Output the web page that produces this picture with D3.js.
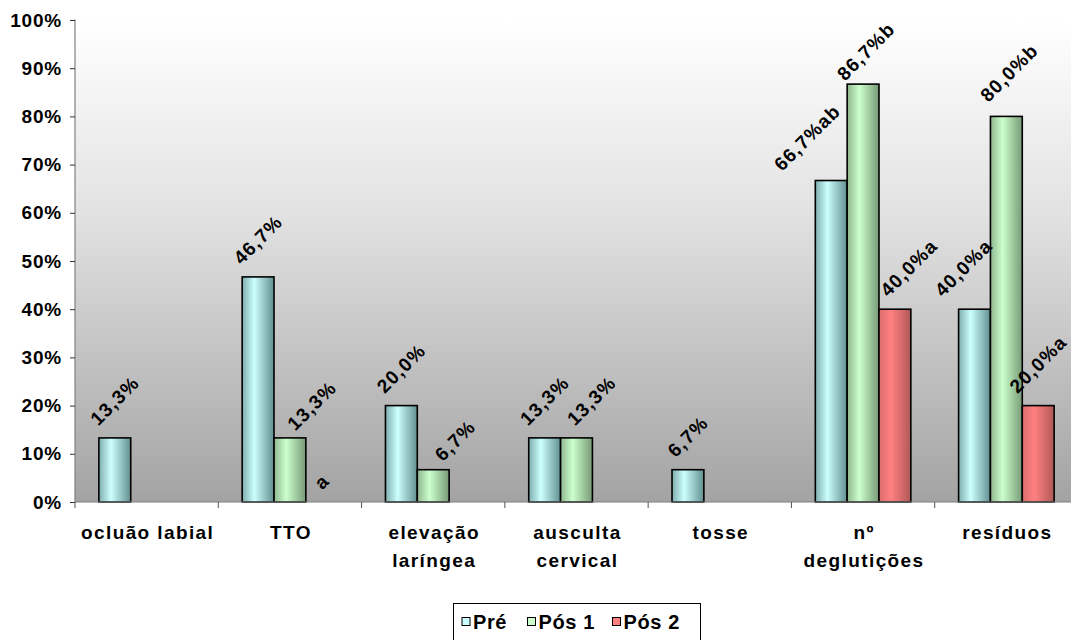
<!DOCTYPE html>
<html><head><meta charset="utf-8">
<script src="https://cdn.jsdelivr.net/npm/d3@7"></script>
<style>
body{margin:0;background:#fff}
svg{display:block}
text{font-family:"Liberation Sans",Arial,sans-serif;font-weight:bold;fill:#000}
</style>
</head><body>
<svg id="c" width="1071" height="640"></svg>
<script>
// ---- data ----
const categories = [["ocluão labial"],["TTO"],["elevação","laríngea"],["ausculta","cervical"],["tosse"],["nº","deglutições"],["resíduos"]];
const seriesNames = ["Pré","Pós 1","Pós 2"];
const pre  = [13.3, 46.7, 20.0, 13.3, 6.7, 66.7, 40.0];
const pos1 = [0,    13.3,  6.7, 13.3, 0,   86.7, 80.0];
const pos2 = [0,    0,     0,   0,    0,   40.0, 20.0];
const preLabels  = ["13,3%","46,7%","20,0%","13,3%","6,7%","66,7%ab","40,0%a"];
const pos1Labels = ["","13,3%","6,7%","13,3%","","86,7%b","80,0%b"];
const pos2Labels = ["","a","","","","40,0%a","20,0%a"];
const yTicks = [0,10,20,30,40,50,60,70,80,90,100];
// label nudges (Excel overlap avoidance), [dx,dy] per series per category
const preNudge  = [[0,0],[0,0],[0,0],[0,0],[0,0],[-24,3],[-11,0]];
const pos1Nudge = [[0,0],[22,5],[22,4],[15,0],[0,0],[3,9],[3,-2]];
const pos2Nudge = [[0,0],[0,0],[0,0],[0,0],[0,0],[14,0],[0,0]];

const seriesValues = [pre,pos1,pos2];
const seriesLabels = [preLabels,pos1Labels,pos2Labels];
const seriesNudges = [preNudge,pos1Nudge,pos2Nudge];
const colors = [
  {edgeL:"#7fadad", mid:"#ccffff", edgeR:"#628f8f", swatch:"#ccffff"},
  {edgeL:"#8fb68f", mid:"#ccffcc", edgeR:"#779a77", swatch:"#ccffcc"},
  {edgeL:"#dc6e6e", mid:"#ff8080", edgeR:"#b05858", swatch:"#ff8080"}
];

const svg = d3.select("#c");
const pLeft = 75, pTop = 20, pBottom = 502, pRight = 1078;

const defs = svg.append("defs");
const bg = defs.append("linearGradient").attr("id","bg").attr("x1",0).attr("y1",0).attr("x2",0).attr("y2",1);
bg.append("stop").attr("offset",0).attr("stop-color","#ffffff");
bg.append("stop").attr("offset",0.4).attr("stop-color","#e2e2e2");
bg.append("stop").attr("offset",1).attr("stop-color","#a3a3a3");
colors.forEach((c,i)=>{
  const g = defs.append("linearGradient").attr("id","bar"+i).attr("x1",0).attr("y1",0).attr("x2",1).attr("y2",0);
  g.append("stop").attr("offset",0).attr("stop-color",c.edgeL);
  g.append("stop").attr("offset",0.38).attr("stop-color",c.mid);
  g.append("stop").attr("offset",1).attr("stop-color",c.edgeR);
});

const x0 = d3.scaleBand().domain(d3.range(categories.length)).range([pLeft,pRight]).padding(0);
const x1 = d3.scaleBand().domain(d3.range(3)).range([0,x0.bandwidth()]).paddingInner(0).paddingOuter(0.75);
const y = d3.scaleLinear().domain([0,100]).range([pBottom,pTop]);

// plot area
svg.append("rect").attr("x",pLeft).attr("y",pTop).attr("width",pRight-pLeft).attr("height",pBottom-pTop).attr("fill","url(#bg)");

// bars
seriesValues.forEach((vals,s)=>{
  svg.append("g").selectAll("rect").data(vals.map((v,i)=>({v,i})).filter(d=>d.v>0)).join("rect")
    .attr("x",d=>x0(d.i)+x1(s))
    .attr("y",d=>y(d.v))
    .attr("width",x1.bandwidth())
    .attr("height",d=>y(0)-y(d.v))
    .attr("fill","url(#bar"+s+")")
    .attr("stroke","#000").attr("stroke-width",1.6);
});

// axes
const yAxis = d3.axisLeft(y).tickValues(yTicks).tickSize(5).tickFormat(d=>d+"%");
const gy = svg.append("g").attr("transform",`translate(${pLeft},0)`).call(yAxis);
gy.select(".domain").attr("stroke","#808080").attr("stroke-width",1.2).attr("d",`M0,${pTop-0.5}V${pBottom}`);
gy.selectAll(".tick line").attr("stroke","#333");
gy.selectAll(".tick text").attr("x",-13).attr("font-size",19).attr("letter-spacing","0.8px")
  .attr("font-family",'"Liberation Sans",Arial,sans-serif').attr("font-weight","bold").attr("fill","#000");

const gx = svg.append("g");
gx.append("line").attr("x1",pLeft).attr("x2",pRight).attr("y1",pBottom).attr("y2",pBottom).attr("stroke","#808080").attr("stroke-width",1.2);
gx.selectAll("line.t").data(d3.range(categories.length+1)).join("line").attr("class","t")
  .attr("x1",i=>pLeft+i*x0.step()).attr("x2",i=>pLeft+i*x0.step())
  .attr("y1",pBottom).attr("y2",pBottom+6).attr("stroke","#555");
categories.forEach((lines,i)=>{
  const t = gx.append("text").attr("text-anchor","middle").attr("font-size",19).attr("letter-spacing","1.4px")
    .attr("x",x0(i)+x0.bandwidth()/2+1).attr("y",539);
  lines.forEach((ln,k)=>t.append("tspan").attr("x",x0(i)+x0.bandwidth()/2+1).attr("y",539+k*28).text(ln));
});

// data labels
seriesLabels.forEach((labs,s)=>{
  labs.forEach((lab,i)=>{
    if(!lab) return;
    const v = seriesValues[s][i];
    const cx = x0(i)+x1(s)+x1.bandwidth()/2;
    const t = svg.append("text").attr("font-size",19).attr("letter-spacing","1.2px")
      .attr("text-anchor","middle").attr("dominant-baseline","central").text(lab);
    const L = t.node().getComputedTextLength();
    const nd = seriesNudges[s][i];
    const px = cx + nd[0];
    const py = y(v) - (L*0.354 + 16) + nd[1];
    t.attr("transform",`translate(${px},${py}) rotate(-45)`);
  });
});

// legend
const lg = svg.append("g");
lg.append("rect").attr("x",453.5).attr("y",603.5).attr("width",247).attr("height",50).attr("fill","#fff").attr("stroke","#000").attr("stroke-width",1);
const legX = [462, 527.5, 612.5];
seriesNames.forEach((n,s)=>{
  lg.append("rect").attr("x",legX[s]).attr("y",617.5).attr("width",8).attr("height",8).attr("fill",colors[s].swatch).attr("stroke","#000").attr("stroke-width",1);
  lg.append("text").attr("x",legX[s]+11).attr("y",628.5).attr("font-size",20).attr("letter-spacing","0.6px").text(n);
});
</script>
</body></html>
